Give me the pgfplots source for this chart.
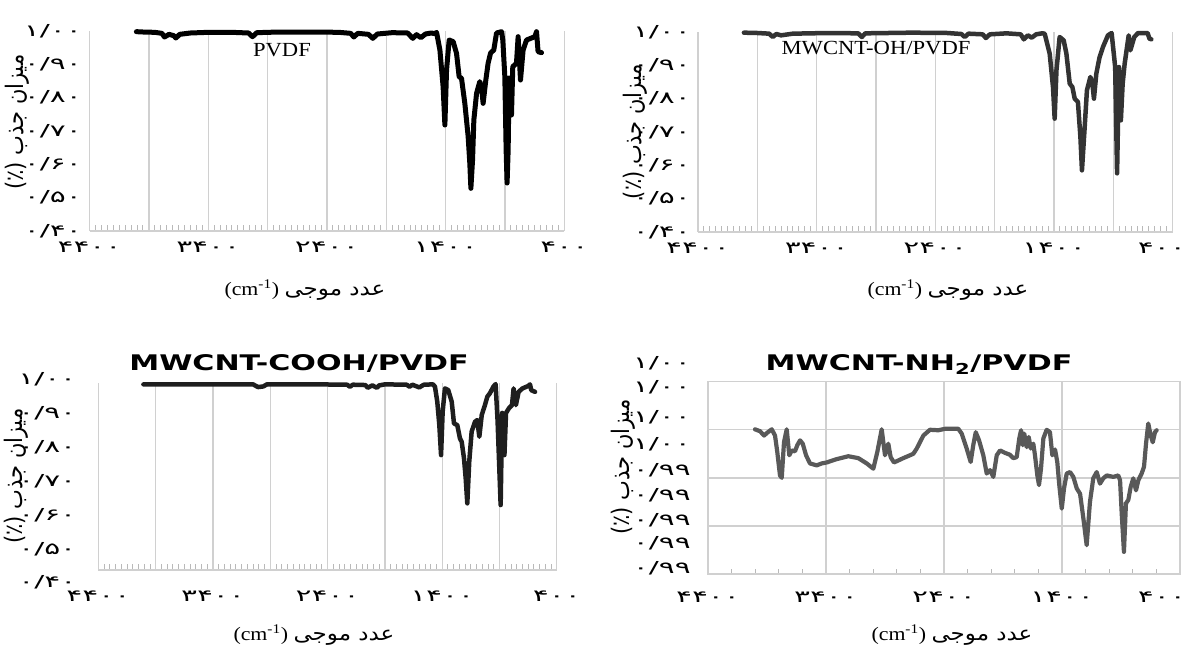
\documentclass[border=0pt]{standalone}
\usepackage{fontspec}
\usepackage{graphicx}
\usepackage{pgfplots}
\usepackage{pgfplotstable}
\pgfplotsset{compat=1.18}
\TeXXeTstate=1
\setmainfont{Liberation Serif}
\newfontfamily\fa[Script=Arabic,FakeStretch=1.8]{DejaVu Sans}
\newfontfamily\fay[Script=Arabic]{DejaVu Sans}
\newfontfamily\tsans{DejaVu Sans}
\definecolor{gridc}{RGB}{208,208,208}
\definecolor{tickc}{RGB}{185,185,185}
\definecolor{c1}{RGB}{0,0,0}
\definecolor{c2}{RGB}{51,51,51}
\definecolor{c3}{RGB}{30,30,30}
\definecolor{c4}{RGB}{89,89,89}
\newcommand{\tickfont}{\fa\fontsize{16.5}{18}\selectfont}
\newcommand{\ylab}{\scalebox{1}[1.15]{\fay\fontsize{21}{24}\selectfont (٪) \beginR میزان جذب\endR}}
\newcommand{\xlab}{\scalebox{1.15}[1]{\fontsize{19}{22}\selectfont (cm\textsuperscript{-1}) {\fay\fontsize{20}{22}\selectfont\beginR عدد موجی\endR}}}

\pgfplotstableread{
wn v
4005 0.998
3950 0.997
3850 0.996
3790 0.993
3768 0.982
3730 0.990
3690 0.986
3672 0.979
3640 0.990
3550 0.994
3400 0.996
3200 0.996
3060 0.994
3027 0.983
2990 0.995
2800 0.997
2500 0.997
2300 0.996
2200 0.993
2173 0.982
2140 0.993
2050 0.990
2013 0.978
1975 0.991
1850 0.995
1720 0.994
1690 0.983
1676 0.978
1645 0.989
1608 0.980
1570 0.991
1520 0.994
1490 0.992
1476 0.996
1448 0.943
1421 0.833
1406 0.718
1392 0.883
1370 0.973
1336 0.968
1308 0.933
1286 0.863
1266 0.858
1238 0.783
1210 0.683
1196 0.603
1187 0.528
1173 0.613
1162 0.733
1139 0.813
1112 0.848
1097 0.833
1084 0.783
1061 0.853
1042 0.903
1021 0.934
994 0.943
971 0.994
929 0.998
918 0.973
901 0.863
890 0.643
882 0.544
873 0.643
865 0.859
855 0.859
845 0.748
834 0.893
803 0.903
789 0.983
769 0.853
747 0.943
718 0.973
648 0.983
634 0.998
621 0.938
592 0.935
}\dataA

\pgfplotstableread{
wn v
4013 0.998
3900 0.997
3800 0.995
3770 0.985
3740 0.994
3700 0.990
3600 0.995
3300 0.997
3050 0.996
3019 0.985
2990 0.996
2600 0.998
2300 0.997
2180 0.994
2152 0.985
2120 0.995
2000 0.993
1974 0.982
1940 0.993
1800 0.996
1680 0.993
1654 0.978
1620 0.990
1587 0.983
1550 0.993
1500 0.996
1478 0.995
1436 0.935
1408 0.835
1394 0.740
1379 0.885
1352 0.985
1318 0.975
1295 0.935
1267 0.845
1245 0.835
1225 0.800
1198 0.790
1177 0.685
1164 0.585
1141 0.715
1122 0.825
1093 0.865
1076 0.845
1063 0.800
1043 0.875
1015 0.925
987 0.955
945 0.990
914 0.997
884 0.895
868 0.576
852 0.895
836 0.735
821 0.845
804 0.905
770 0.990
756 0.945
723 0.985
691 0.997
611 0.997
595 0.980
579 0.978
}\dataB

\pgfplotstableread{
wn v
4007 0.996
3800 0.996
3500 0.996
3050 0.996
3007 0.988
2960 0.990
2930 0.996
2500 0.996
2230 0.995
2205 0.989
2180 0.995
2070 0.994
2050 0.986
2010 0.993
1970 0.986
1950 0.993
1900 0.996
1710 0.995
1685 0.989
1660 0.995
1600 0.987
1560 0.995
1480 0.996
1463 0.989
1443 0.945
1425 0.876
1410 0.788
1396 0.916
1376 0.984
1347 0.979
1317 0.945
1297 0.881
1268 0.876
1245 0.837
1230 0.827
1210 0.779
1195 0.720
1181 0.646
1164 0.769
1143 0.857
1114 0.886
1094 0.891
1076 0.842
1055 0.906
1027 0.935
1006 0.960
983 0.970
954 0.989
934 0.997
917 0.891
890 0.641
877 0.912
857 0.788
843 0.912
817 0.926
791 0.935
777 0.984
757 0.935
733 0.974
700 0.984
651 0.991
634 0.996
623 0.979
590 0.974
}\dataC

\pgfplotstableread{
wn u
4002 3.01
3959 2.97
3925 2.88
3897 2.94
3860 3.01
3832 2.88
3813 2.54
3790 2.05
3775 2.00
3756 2.74
3733 3.01
3711 2.47
3691 2.57
3663 2.55
3643 2.68
3620 2.78
3597 2.71
3569 2.47
3536 2.30
3479 2.26
3436 2.30
3394 2.32
3309 2.39
3211 2.45
3126 2.41
3055 2.30
2999 2.19
2965 2.54
2928 3.01
2900 2.47
2872 2.71
2852 2.43
2824 2.32
2745 2.41
2660 2.50
2631 2.61
2575 2.88
2519 3.00
2448 2.99
2392 3.02
2279 3.02
2250 2.92
2208 2.61
2174 2.33
2152 2.68
2131 2.95
2103 2.78
2067 2.47
2038 2.09
2010 2.16
1982 2.02
1953 2.47
1925 2.57
1883 2.52
1841 2.48
1813 2.41
1784 2.43
1762 2.82
1747 2.99
1733 2.68
1720 2.92
1699 2.64
1682 2.85
1665 2.61
1643 2.71
1629 2.47
1609 2.05
1595 1.85
1578 2.19
1558 2.82
1530 3.00
1502 2.95
1482 2.47
1459 2.59
1440 2.33
1423 1.85
1402 1.36
1383 1.78
1360 2.09
1332 2.12
1304 2.02
1275 1.78
1247 1.67
1219 1.16
1191 0.60
1163 1.50
1135 1.99
1106 2.12
1078 1.88
1050 1.99
1021 2.05
965 2.02
923 2.05
908 1.95
894 1.26
875 0.46
858 1.47
838 1.54
818 1.81
796 1.99
773 1.74
753 1.95
725 2.09
705 2.23
688 2.71
669 3.13
648 2.88
631 2.74
612 2.95
598 2.99
}\dataD

\begin{document}
\begin{tikzpicture}
\useasboundingbox (0,0) rectangle (1187pt,-650pt);
\pgfplotsset{
 spec/.style={
  scale only axis, anchor=south west,
  xmin=-4400, xmax=-400,
  axis x line*=bottom, axis y line*=left,
  x axis line style={draw=gridc, line width=1.3pt, -},
  y axis line style={draw=none, -},
  xtick={-4400,-3900,...,-400},
  xticklabels={۴۴۰۰,,۳۴۰۰,,۲۴۰۰,,۱۴۰۰,,۴۰۰},
  minor x tick num=9,
  xmajorgrids,
  major grid style={draw=gridc, line width=1.3pt},
  major tick length=0pt, minor tick length=6pt,
  minor tick style={draw=tickc, line width=0.9pt},
  tick align=inside,
  ytick={0.4,0.5,0.6,0.7,0.8,0.9,1.0},
  yticklabels={۰/۴۰,۰/۵۰,۰/۶۰,۰/۷۰,۰/۸۰,۰/۹۰,۱/۰۰},
  ticklabel style={font=\tickfont, inner sep=0pt},
  clip=false,
 },
 spl/.style={line width=4.5pt, line join=round, line cap=round},
}

% Panel 1
\begin{axis}[spec, at={(89.5pt,-231pt)}, width=474.8pt, height=200pt,
  ymin=0.4, ymax=1.0,
  xticklabel style={anchor=center, yshift=-16pt},
  yticklabel style={anchor=east, xshift=-7.5pt}]
\addplot[spl, draw=c1, line width=5pt] table[x expr=-\thisrowno{0}, y index=1] {\dataA};
\end{axis}

% Panel 2
\begin{axis}[spec, at={(698pt,-232pt)}, width=474.6pt, height=200pt,
  ymin=0.4, ymax=1.0,
  xticklabels={۴۴۰۰,,۳۴۰۰,,۲۴۰۰,,۱۴۰۰,,},
  xticklabel style={anchor=center, yshift=-16pt},
  yticklabel style={anchor=east, xshift=-7pt}]
\addplot[spl, draw=c2] table[x expr=-\thisrowno{0}, y index=1] {\dataB};
\end{axis}

% Panel 3
\begin{axis}[spec, at={(98.4pt,-570pt)}, width=458.4pt, height=187pt,
  ymin=0.45, ymax=1.0,
  ytick={0.5,0.6,0.7,0.8,0.9,1.0},
  yticklabels={۰/۵۰,۰/۶۰,۰/۷۰,۰/۸۰,۰/۹۰,۱/۰۰},
  xticklabel style={anchor=center, yshift=-26.5pt},
  yticklabel style={anchor=east, xshift=-22pt, yshift=4pt}]
\addplot[spl, draw=c3] table[x expr=-\thisrowno{0}, y index=1] {\dataC};
\end{axis}

% Panel 4
\begin{axis}[scale only axis, anchor=south west, at={(708pt,-574pt)}, width=472pt, height=192.3pt,
  xmin=-4400, xmax=-400, ymin=0, ymax=4,
  axis line style={draw=gridc, line width=1.3pt},
  xtick={-4400,-3400,-2400,-1400,-400},
  xticklabels={۴۴۰۰,۳۴۰۰,۲۴۰۰,۱۴۰۰,},
  minor x tick num=4,
  ytick={0,1,2,3,4}, yticklabels={,,,,},
  xtick pos=bottom, ytick pos=left,
  grid=major,
  major grid style={draw=gridc, line width=1.3pt},
  major tick length=0pt, minor tick length=5pt,
  minor tick style={draw=tickc, line width=0.9pt},
  tick align=inside,
  extra y ticks={0.118,0.637,1.12,1.64,2.16,2.70,3.26,3.89},
  extra y tick labels={۰/۹۹,۰/۹۹,۰/۹۹,۰/۹۹,۰/۹۹,۱/۰۰,۱/۰۰,۱/۰۰},
  extra y tick style={grid=none, major tick length=0pt},
  ticklabel style={font=\tickfont, inner sep=0pt},
  xticklabel style={anchor=center, yshift=-22.7pt},
  yticklabel style={anchor=east, xshift=-17pt},
  clip=false]
\addplot[spl, draw=c4, line width=4.2pt] table[x expr=-\thisrowno{0}, y index=1] {\dataD};
\end{axis}

% tick labels placed outside the axis ranges or at the page edge
\node[font=\tickfont, anchor=east, inner sep=0pt] at (76.5pt,-582pt) {۰/۴۰};
\node[font=\tickfont, anchor=east, inner sep=0pt] at (691pt,-363.3pt) {۱/۰۰};
\node[font=\tickfont, anchor=east, inner sep=0pt] at (1186pt,-596.7pt) {۴۰۰};
\node[font=\tickfont, anchor=east, inner sep=0pt] at (1186pt,-248pt) {۴۰۰};

% titles
\node[font=\fontsize{20}{24}\selectfont] at (282pt,-50pt) {\scalebox{1.13}[1]{PVDF}};
\node[font=\fontsize{20}{24}\selectfont] at (876pt,-48pt) {\scalebox{1.13}[1]{MWCNT-OH/PVDF}};
\node[font=\tsans\bfseries\fontsize{21.5}{24}\selectfont] at (299pt,-364pt) {\scalebox{1.4}[1]{MWCNT-COOH/PVDF}};
\node[font=\tsans\bfseries\fontsize{21.5}{24}\selectfont] at (919pt,-365pt) {\scalebox{1.4}[1]{MWCNT-NH\textsubscript{2}/PVDF}};

% axis labels
\node at (305pt,-290pt) {\xlab};
\node at (948pt,-290pt) {\xlab};
\node at (314pt,-635pt) {\xlab};
\node at (952pt,-635pt) {\xlab};
\node[rotate=90] at (17pt,-122pt) {\ylab};
\node[rotate=90] at (635.5pt,-131.5pt) {\ylab};
\node[rotate=90] at (16.5pt,-476pt) {\ylab};
\node[rotate=90] at (623.5pt,-467pt) {\ylab};
\end{tikzpicture}
\end{document}
